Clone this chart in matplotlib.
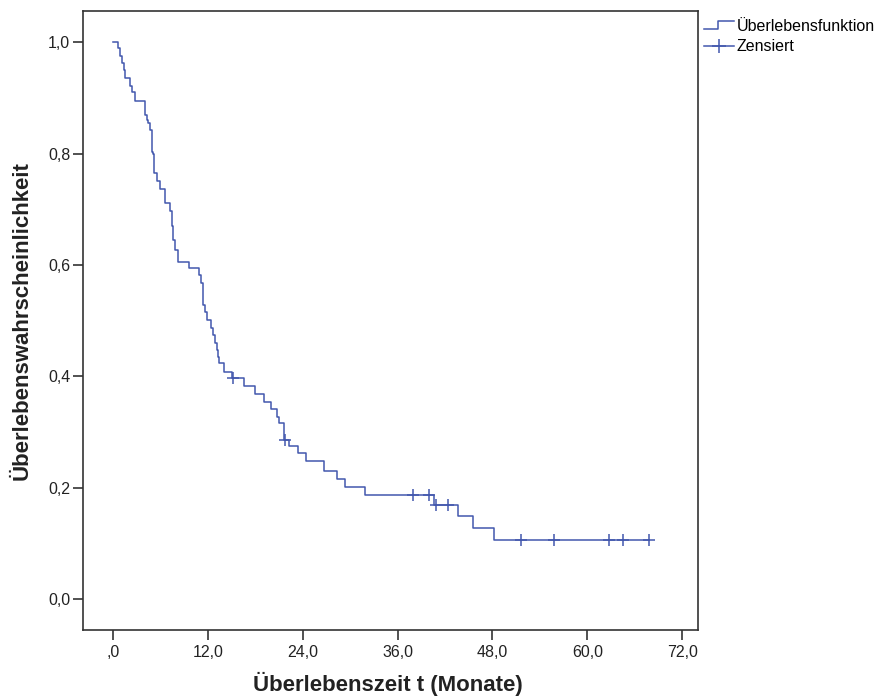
import matplotlib
matplotlib.use("Agg")
import matplotlib.pyplot as plt
import numpy as np
from matplotlib.lines import Line2D
from matplotlib.legend_handler import HandlerBase

# Kaplan-Meier step data (months, survival after the drop)
event_times = [0.0, 0.59, 0.85, 1.10, 1.33, 1.54, 2.11, 2.43, 2.75, 4.01, 4.23, 4.46,
               4.68, 4.86, 5.09, 5.15, 5.53, 5.95, 6.54, 7.22, 7.43, 7.62, 7.87, 8.23,
               9.62, 10.91, 11.13, 11.32, 11.61, 11.90, 12.39, 12.66, 12.87, 13.09,
               13.29, 13.42, 14.05, 14.99, 16.54, 18.0, 19.08, 19.92, 20.78, 21.01,
               21.65, 22.28, 23.38, 24.46, 26.67, 28.35, 29.33, 31.86, 40.66, 43.67,
               45.57, 48.23, 67.85]
survival = [1.0, 0.989, 0.975, 0.962, 0.950, 0.935, 0.921, 0.910, 0.895, 0.869, 0.860,
            0.854, 0.842, 0.803, 0.799, 0.765, 0.750, 0.736, 0.711, 0.696, 0.670, 0.645,
            0.627, 0.606, 0.594, 0.582, 0.567, 0.528, 0.516, 0.501, 0.487, 0.474, 0.459,
            0.447, 0.435, 0.423, 0.408, 0.396, 0.383, 0.368, 0.354, 0.341, 0.327, 0.316,
            0.286, 0.274, 0.262, 0.247, 0.229, 0.215, 0.201, 0.187, 0.169, 0.148, 0.127,
            0.106, 0.106]

# censored observations
censor_times = [15.19, 21.72, 37.90, 40.0, 40.91, 42.41, 51.61, 55.82, 62.78, 64.56, 67.85]
censor_surv = [0.396, 0.286, 0.187, 0.187, 0.169, 0.169, 0.106, 0.106, 0.106, 0.106, 0.106]

xticks = [0, 12, 24, 36, 48, 60, 72]
xtick_labels = [",0", "12,0", "24,0", "36,0", "48,0", "60,0", "72,0"]
yticks = [0.0, 0.2, 0.4, 0.6, 0.8, 1.0]
ytick_labels = ["0,0", "0,2", "0,4", "0,6", "0,8", "1,0"]

line_color = "#4257ad"
plt.rcParams['font.family'] = ['Liberation Sans', 'DejaVu Sans']


class StepHandler(HandlerBase):
    # legend icon drawn as a small step
    def create_artists(self, legend, orig_handle, xdescent, ydescent, width, height,
                       fontsize, trans):
        xs = np.array([0, width * 0.45, width * 0.45, width]) - xdescent
        ys = np.array([height * 0.15, height * 0.15, height * 0.85, height * 0.85]) - ydescent
        ln = Line2D(xs, ys, color=orig_handle.get_color(), lw=orig_handle.get_linewidth())
        ln.set_transform(trans)
        return [ln]


fig = plt.figure(figsize=(8.74, 6.98), dpi=100)
ax = fig.add_axes([0.0946, 0.0974, 0.7036, 0.8868])

ax.step(event_times, survival, where='post', color=line_color, lw=1.1)
ax.plot(censor_times, censor_surv, linestyle='none', marker='+', markersize=8,
        markeredgewidth=1.1, color=line_color)

ax.set_xlim(-3.87, 73.97)
ax.set_ylim(-0.056, 1.056)
ax.set_xticks(xticks)
ax.set_xticklabels(xtick_labels)
ax.set_yticks(yticks)
ax.set_yticklabels(ytick_labels)
ax.tick_params(axis='both', direction='out', length=7, width=1.2, color='#333333',
               labelsize=11.5, labelcolor='#222222')
ax.tick_params(axis='x', pad=4)
ax.tick_params(axis='y', pad=2)
for sp in ax.spines.values():
    sp.set_color('#333333')
    sp.set_linewidth(1.2)

ax.set_xlabel("Überlebenszeit t (Monate)", fontsize=16, fontweight='bold', color='#222222')
ax.set_ylabel("Überlebenswahrscheinlichkeit", fontsize=16, fontweight='bold', color='#222222')
ax.xaxis.set_label_coords(0.4956, -0.067)
ax.yaxis.set_label_coords(-0.081, 0.5)

h_step = Line2D([], [], color=line_color, lw=1.1)
h_cens = Line2D([], [], color=line_color, lw=1.1, marker='+', markersize=10,
                markeredgewidth=1.1)
ax.legend([h_step, h_cens], ["Überlebensfunktion", "Zensiert"],
          handler_map={h_step: StepHandler()},
          loc='upper left', bbox_to_anchor=(1.0, 0.998), frameon=False,
          fontsize=11.5, handlelength=1.9, handletextpad=0.15, labelspacing=0.35,
          borderaxespad=0.2, borderpad=0.2)

fig.savefig("out.png", dpi=100)
